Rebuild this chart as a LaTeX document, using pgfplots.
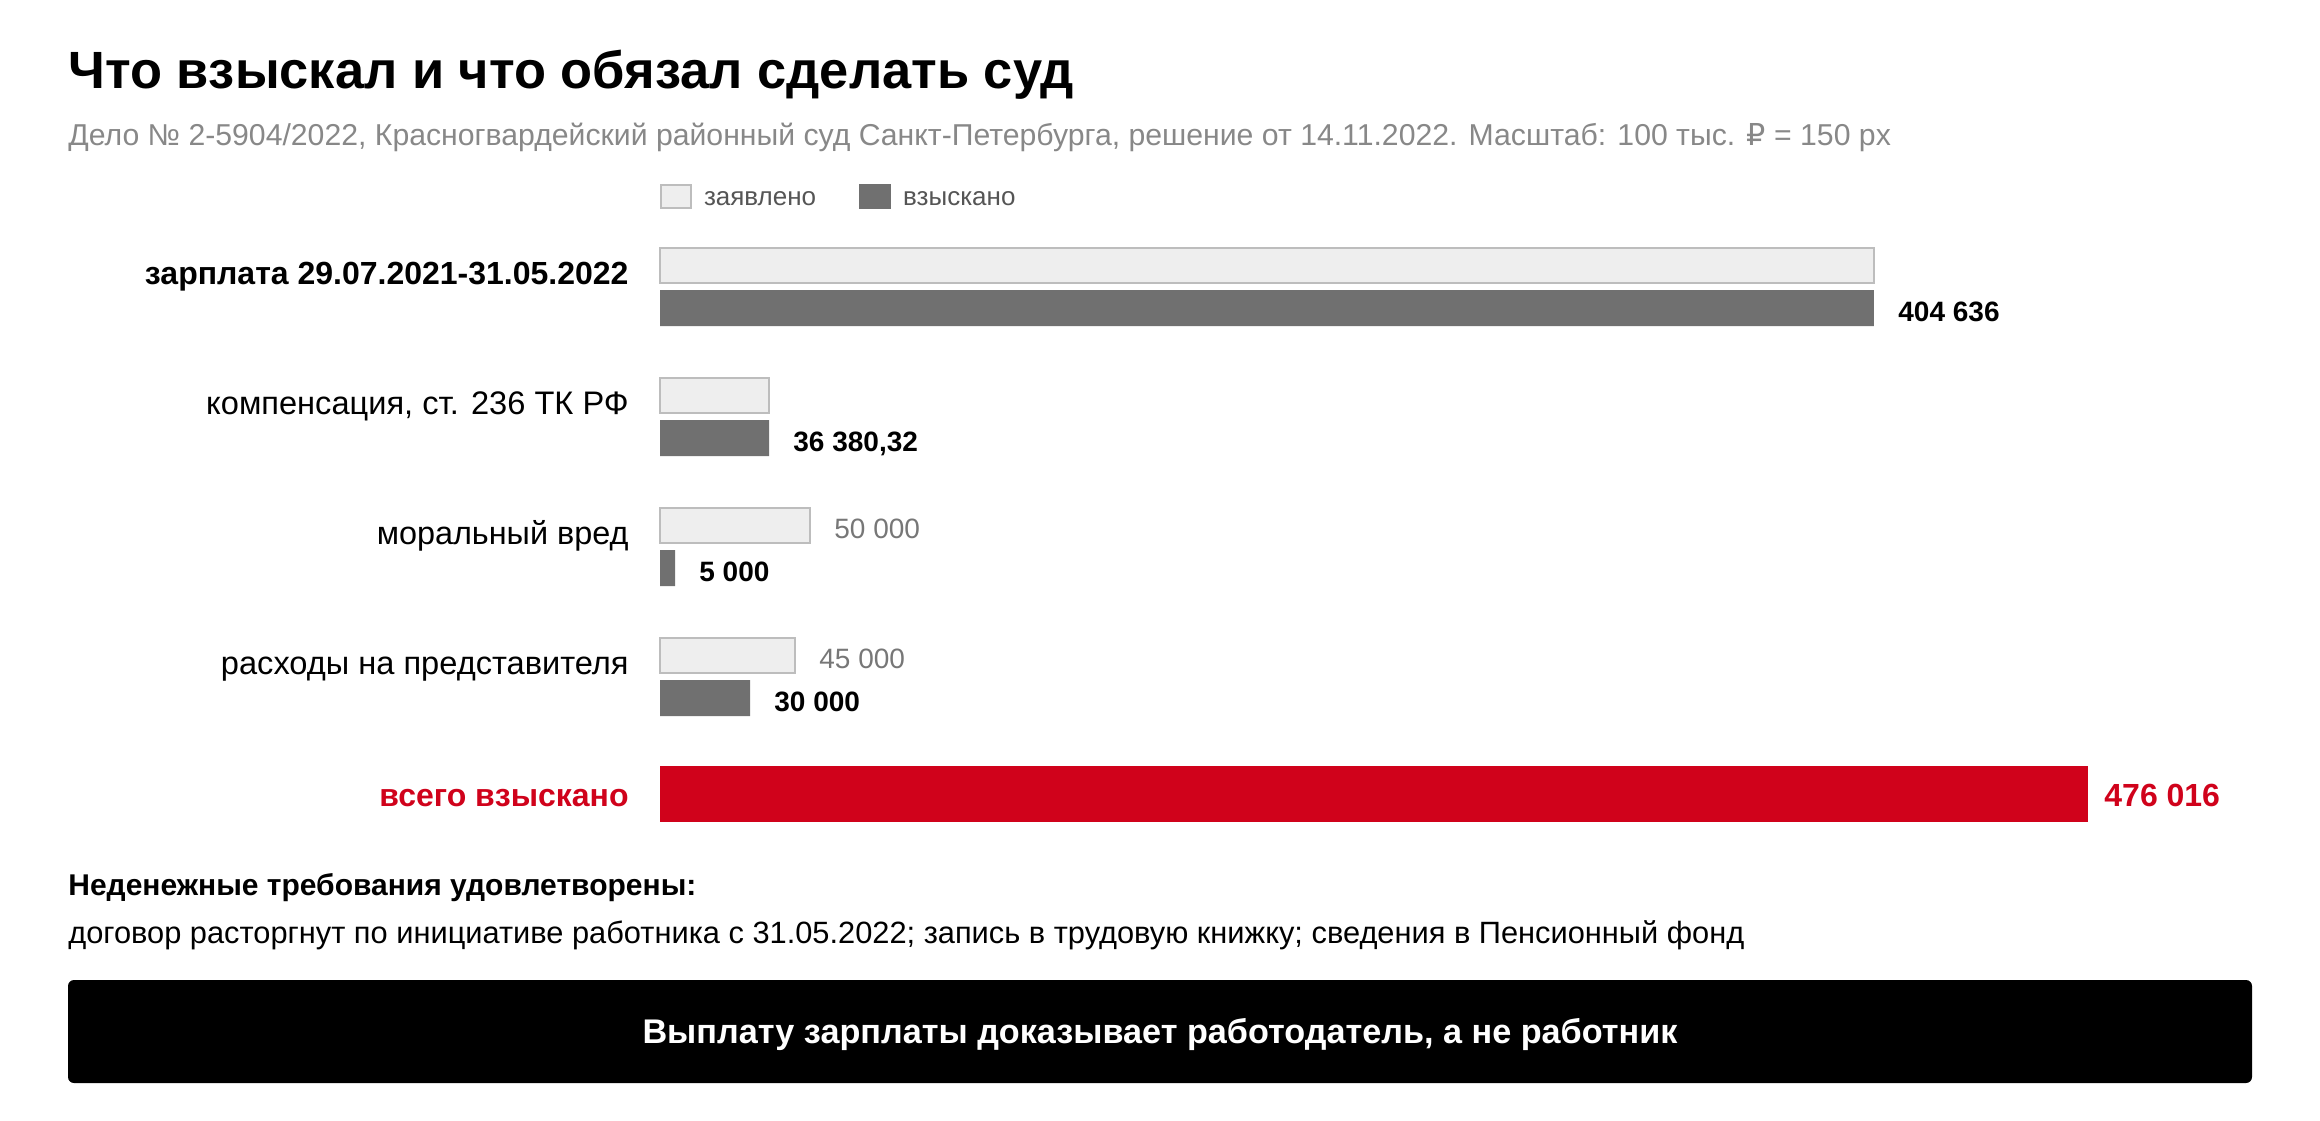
\documentclass[border=0pt]{standalone}
\usepackage{fontspec}
\setmainfont{Liberation Sans}
\newfontfamily\dejavu{DejaVu Sans}
\usepackage{pgfplots}
\usepackage{pgfplotstable}
\pgfplotsset{compat=1.18}
\definecolor{claimfill}{HTML}{EEEEEE}
\definecolor{claimdraw}{HTML}{BDBDBD}
\definecolor{recv}{HTML}{707070}
\definecolor{totalred}{HTML}{D0021B}
\definecolor{subgray}{HTML}{888888}
\definecolor{leggray}{HTML}{555555}
\definecolor{valgray}{HTML}{777777}

% value (rubles), vertical position (pixels from top)
\pgfplotstableread{
val pos
404636 265.8
36380.32 395.8
50000 525.8
45000 655.8
}\claimed
\pgfplotstableread{
val pos
404636 308
36380.32 438
5000 568
30000 698
}\received
\pgfplotstableread{
val pos
476016 794
}\total

\newcommand{\fs}[1]{\fontsize{#1}{#1}\selectfont}

\begin{document}
\begin{tikzpicture}[x=0.5pt,y=-0.5pt]
\useasboundingbox (0,0) rectangle (2320,1120);
\begin{axis}[
  at={(580pt,-280pt)}, anchor=center,
  scale only axis, width=1160pt, height=560pt,
  xmin=-220000, xmax=553333.33,
  ymin=0, ymax=1120, y dir=reverse,
  hide axis, clip=false,
  legend columns=-1,
  legend style={draw=none, fill=none, inner sep=0pt, outer sep=0pt,
    at={(axis cs:0,196.5)}, anchor=west,
    font=\fs{13}, text=leggray,
    nodes={inner sep=0pt},
    /tikz/every odd column/.append style={column sep=6pt},
    /tikz/every even column/.append style={column sep=21.5pt}},
]
\addplot[xbar, bar shift=0pt, bar width=35, fill=claimfill, draw=claimdraw, line width=1pt,
  legend image code/.code={\draw[fill=claimfill, draw=claimdraw, line width=1pt] (0.5pt,-4pt) rectangle (15.5pt,7.5pt);}]
  table[x=val, y=pos] {\claimed};
\addlegendentry{заявлено}
\addplot[xbar, bar shift=0pt, bar width=36, fill=recv, draw=none,
  legend image code/.code={\fill[recv] (0pt,-4.5pt) rectangle (16pt,8pt);}]
  table[x=val, y=pos] {\received};
\addlegendentry{взыскано}
\addplot[xbar, bar shift=0pt, bar width=56, fill=totalred, draw=none, forget plot]
  table[x=val, y=pos] {\total};
\end{axis}

% title and subtitle
\node[anchor=base west, inner sep=0pt, font=\fs{26.2}\bfseries] at (68,88) {Что взыскал и что обязал сделать суд};
\node[anchor=base west, inner sep=0pt, font=\fs{15.1}, text=subgray] at (68,145) {Дело № 2-5904/2022, Красногвардейский районный суд Санкт-Петербурга, решение от 14.11.2022. Масштаб: 100 тыс. {\dejavu ₽} = 150 px};

% category labels
\node[anchor=base east, inner sep=0pt, font=\fs{16}\bfseries] at (629,284) {зарплата 29.07.2021-31.05.2022};
\node[anchor=base east, inner sep=0pt, font=\fs{16.3}] at (629,414) {компенсация, ст. 236 ТК РФ};
\node[anchor=base east, inner sep=0pt, font=\fs{16.2}] at (629,544) {моральный вред};
\node[anchor=base east, inner sep=0pt, font=\fs{16.3}] at (629,674) {расходы на представителя};
\node[anchor=base east, inner sep=0pt, font=\fs{16}\bfseries, text=totalred] at (629,806) {всего взыскано};

% value labels
\node[anchor=base west, inner sep=0pt, font=\fs{14}\bfseries] at (1898,321.5) {404 636};
\node[anchor=base west, inner sep=0pt, font=\fs{14}\bfseries] at (793,451.5) {36 380,32};
\node[anchor=base west, inner sep=0pt, font=\fs{14}, text=valgray] at (834,538.3) {50 000};
\node[anchor=base west, inner sep=0pt, font=\fs{14}\bfseries] at (699,581.5) {5 000};
\node[anchor=base west, inner sep=0pt, font=\fs{14}, text=valgray] at (819,668.3) {45 000};
\node[anchor=base west, inner sep=0pt, font=\fs{14}\bfseries] at (774,711.5) {30 000};
\node[anchor=base west, inner sep=0pt, font=\fs{16}\bfseries, text=totalred] at (2104,806) {476 016};

% bottom notes
\node[anchor=base west, inner sep=0pt, font=\fs{15}\bfseries] at (68,895) {Неденежные требования удовлетворены:};
\node[anchor=base west, inner sep=0pt, font=\fs{15.4}] at (68,943) {договор расторгнут по инициативе работника с 31.05.2022; запись в трудовую книжку; сведения в Пенсионный фонд};

\fill[black, rounded corners=3pt] (68,980) rectangle (2252,1083);
\node[anchor=base, inner sep=0pt, font=\fs{17.1}\bfseries, text=white] at (1160,1043) {Выплату зарплаты доказывает работодатель, а не работник};
\end{tikzpicture}
\end{document}
